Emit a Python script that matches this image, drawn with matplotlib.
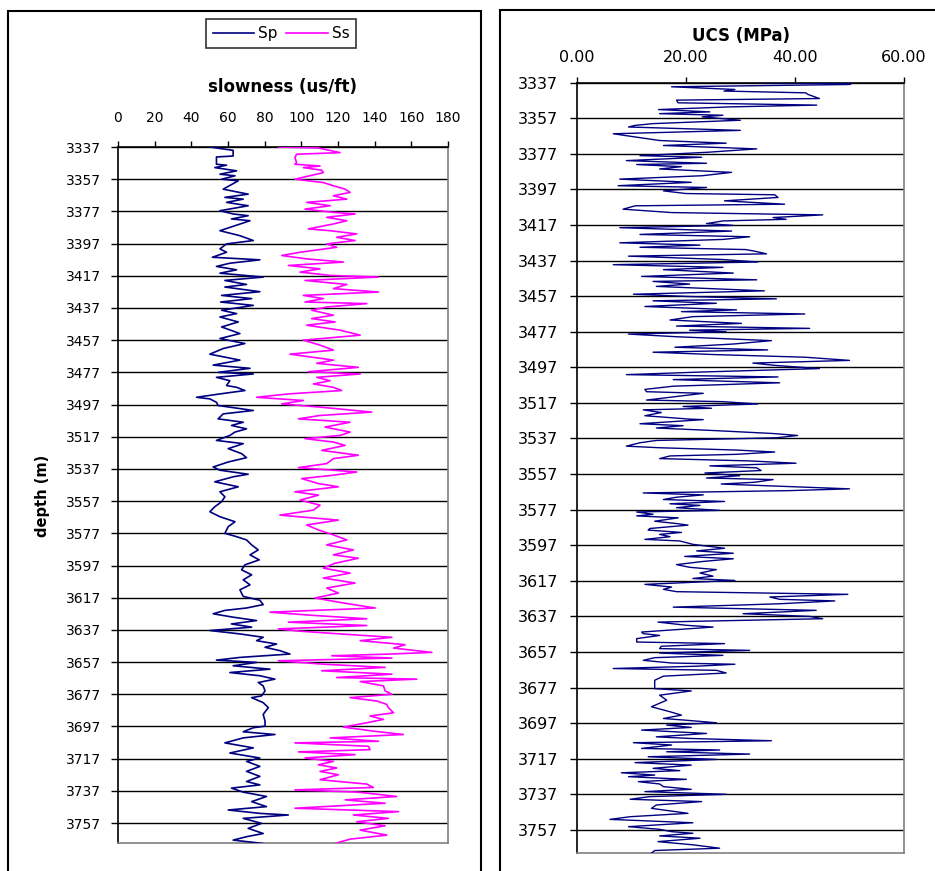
import matplotlib
matplotlib.use('Agg')
import matplotlib.pyplot as plt
from matplotlib.patches import Rectangle
from matplotlib.lines import Line2D

# ---------------- data ----------------
depth_ticks = list(range(3337, 3758, 20))
slow_ticks = [0, 20, 40, 60, 80, 100, 120, 140, 160, 180]
ucs_ticks = [0, 20, 40, 60]
ucs_tick_labels = ["0.00", "20.00", "40.00", "60.00"]

sp_depth = [3337.0, 3339.1, 3342.6, 3343.2, 3347.7, 3348.3, 3349.8, 3351.8, 3353.9, 3354.9,
            3357.0, 3358.0, 3363.2, 3366.3, 3368.3, 3369.4, 3371.4, 3373.5, 3376.6, 3378.6,
            3379.7, 3381.7, 3382.8, 3389.0, 3392.1, 3395.1, 3397.2, 3400.3,
            3402.4, 3405.5, 3407.1, 3409.2, 3411.2, 3413.3, 3415.4, 3417.8, 3419.9, 3422.4,
            3424.0, 3426.9, 3429.2, 3431.2, 3433.3, 3435.4, 3438.4, 3440.5, 3442.6, 3445.7,
            3448.8, 3452.9, 3456.0, 3459.1, 3462.2, 3465.7, 3469.4, 3472.5, 3474.5, 3477.0,
            3478.0, 3480.1, 3482.2, 3485.2, 3486.3, 3488.3, 3490.4, 3492.5, 3493.5, 3495.6,
            3497.6, 3500.7, 3502.8, 3505.9, 3508.0, 3510.0, 3512.1, 3514.1, 3516.2, 3519.3,
            3521.3, 3524.4, 3527.5, 3530.0, 3532.7, 3535.8, 3537.8, 3540.3, 3541.9, 3545.0,
            3548.1, 3551.2, 3554.3, 3557.4, 3560.5, 3563.6, 3566.7, 3569.8, 3572.9, 3577.0,
            3579.1, 3581.1, 3584.2, 3587.3, 3590.4, 3593.5, 3596.6, 3599.7, 3602.8, 3605.9,
            3609.0, 3612.1, 3616.2, 3618.6, 3621.3, 3623.4, 3624.9, 3627.0, 3629.1, 3631.2,
            3633.3, 3635.3, 3637.4, 3639.5, 3641.6, 3643.7, 3645.8, 3647.8, 3649.9, 3652.0,
            3654.1, 3655.8, 3657.2, 3659.3, 3661.4, 3663.5, 3665.5, 3667.6, 3669.7, 3671.8,
            3674.9, 3678.0, 3679.1, 3682.2, 3685.3, 3689.5, 3693.7, 3696.8, 3697.8, 3700.3,
            3702.0, 3704.1, 3707.2, 3710.3, 3713.5, 3716.6, 3718.7, 3721.8, 3724.9, 3728.0,
            3731.2, 3733.3, 3735.3, 3737.8, 3740.5, 3743.7, 3746.8, 3748.9, 3751.0, 3752.0,
            3754.1, 3757.2, 3760.3, 3763.5, 3765.5, 3767.6, 3769.7, 3770.7]
sp_value = [50.1, 62.8, 62.8, 53.7, 53.7, 59.2, 52.8, 64.7, 55.6, 63.8,
            56.5, 65.6, 57.4, 71.0, 58.3, 68.3, 59.2, 71.0, 55.6, 62.8,
            71.0, 61.9, 72.0, 55.6, 66.5, 73.8, 59.2, 55.6,
            59.2, 51.5, 77.4, 61.0, 53.7, 64.7, 55.6, 79.2, 58.3, 70.1,
            58.3, 77.4, 56.5, 72.9, 56.0, 73.8, 56.5, 64.7, 55.6, 65.6,
            56.5, 66.5, 55.6, 69.2, 57.4, 50.1, 66.5, 51.9, 72.0, 54.6,
            73.8, 53.7, 61.0, 59.2, 64.7, 69.2, 55.6, 42.8, 50.1, 53.7,
            54.6, 73.8, 57.4, 54.6, 68.3, 61.9, 70.1, 63.8, 61.0, 53.7,
            68.3, 60.1, 67.4, 70.1, 60.1, 51.9, 55.6, 71.0, 62.8, 52.8,
            65.6, 55.6, 58.3, 56.5, 52.8, 50.1, 55.6, 63.8, 60.1, 58.3,
            64.7, 70.1, 72.9, 76.5, 72.0, 77.0, 69.2, 67.4, 72.9, 68.3,
            72.0, 66.5, 68.3, 77.4, 79.2, 70.1, 58.3, 51.9, 62.8, 75.6,
            61.9, 72.9, 50.1, 66.5, 79.2, 75.6, 86.5, 80.2, 88.3, 93.8,
            66.5, 53.7, 75.6, 62.8, 82.9, 61.0, 77.4, 85.6, 76.5, 79.2,
            80.2, 78.3, 72.9, 79.2, 82.0, 79.2, 80.2, 80.2, 73.8, 68.3,
            85.6, 68.3, 58.3, 73.8, 61.0, 77.4, 70.1, 77.4, 70.1, 77.4,
            70.1, 77.4, 61.9, 68.3, 81.0, 72.9, 81.0, 60.1, 77.4, 92.9,
            68.3, 78.3, 71.0, 79.2, 70.1, 62.8, 79.2, 66.5]

ss_depth = [3337.0, 3337.6, 3340.5, 3341.5, 3343.6, 3346.7, 3347.7, 3348.8, 3349.8, 3351.4,
            3352.9, 3357.0, 3359.1, 3361.1, 3363.2, 3365.2, 3367.3, 3369.4, 3371.4, 3373.5,
            3375.6, 3377.6, 3378.6, 3380.7, 3382.8, 3384.8, 3387.9, 3389.0, 3391.0, 3393.1,
            3395.1, 3397.2, 3399.3, 3402.4, 3404.4, 3406.5, 3408.5, 3410.6, 3412.7, 3414.7,
            3416.8, 3417.8, 3419.9, 3422.4, 3425.0, 3427.1, 3429.2, 3431.2, 3433.3, 3434.3,
            3436.4, 3438.4, 3441.5, 3443.6, 3445.7, 3447.7, 3450.8, 3453.9, 3457.0, 3460.1,
            3463.2, 3465.7, 3469.4, 3471.4, 3473.9, 3476.6, 3478.0, 3480.1, 3482.2, 3484.2,
            3486.3, 3488.3, 3490.4, 3492.5, 3494.5, 3496.6, 3498.6, 3501.7, 3503.8, 3505.9,
            3508.0, 3511.0, 3514.1, 3516.2, 3518.2, 3520.3, 3522.4, 3525.5, 3528.5, 3530.6,
            3533.7, 3536.2, 3538.9, 3540.9, 3543.0, 3546.1, 3548.1, 3551.2, 3553.3, 3556.4,
            3559.5, 3562.6, 3565.7, 3568.8, 3571.8, 3574.9, 3578.0, 3581.1, 3584.2, 3587.3,
            3590.4, 3592.5, 3595.6, 3598.6, 3601.7, 3604.8, 3607.9, 3611.0, 3614.1, 3617.2,
            3620.3, 3623.4, 3626.0, 3628.0, 3630.1, 3632.2, 3634.3, 3636.4, 3637.8, 3639.5,
            3641.6, 3643.7, 3646.2, 3648.3, 3651.0, 3652.0, 3653.1, 3654.5, 3656.2, 3658.3,
            3660.3, 3662.4, 3664.5, 3666.6, 3667.6, 3669.1, 3671.8, 3674.9, 3677.0, 3679.1,
            3681.2, 3683.3, 3685.3, 3688.5, 3690.5, 3692.6, 3694.7, 3697.4, 3699.9, 3702.0,
            3704.1, 3706.2, 3707.2, 3709.3, 3711.4, 3712.8, 3714.5, 3716.6, 3718.7, 3720.8,
            3722.8, 3724.9, 3727.0, 3730.1, 3732.8, 3734.9, 3736.4, 3737.8, 3740.5, 3742.6,
            3744.7, 3747.8, 3749.9, 3752.0, 3754.1, 3756.2, 3758.7, 3761.4, 3764.5, 3767.0,
            3769.1, 3770.7]
ss_value = [87.4, 109.3, 121.1, 97.4, 96.5, 97.4, 96.5, 110.2, 101.1, 111.1,
            112.0, 96.5, 112.0, 117.5, 123.9, 126.6, 117.5, 124.8, 102.9, 115.7,
            102.0, 117.5, 129.3, 113.8, 124.8, 117.5, 103.8, 115.7, 130.2, 119.3,
            129.3, 113.8, 119.3, 99.3, 89.3, 102.9, 123.0, 92.9, 110.2, 99.3,
            115.7, 142.1, 102.0, 124.8, 117.5, 142.1, 101.1, 112.0, 102.0, 135.7,
            113.8, 105.6, 117.5, 105.6, 118.4, 102.9, 121.1, 132.1, 101.1, 110.2,
            117.5, 93.8, 117.5, 108.4, 131.1, 103.8, 132.1, 108.4, 115.7, 106.6,
            117.5, 122.0, 92.9, 75.6, 101.1, 89.3, 110.2, 138.4, 110.2, 98.4,
            126.6, 112.9, 126.6, 121.1, 102.0, 117.5, 123.9, 111.1, 131.1, 117.5,
            113.8, 98.4, 130.2, 117.5, 100.2, 109.3, 120.2, 96.5, 109.3, 99.3,
            110.2, 106.6, 88.3, 120.2, 102.9, 109.3, 117.5, 124.8, 113.8, 128.4,
            117.5, 131.1, 118.4, 112.0, 126.6, 112.0, 129.3, 113.8, 120.2, 107.5,
            123.0, 140.3, 82.9, 106.6, 135.7, 92.9, 135.7, 87.4, 99.3, 121.1,
            149.4, 132.1, 156.6, 150.3, 171.2, 148.5, 116.6, 149.4, 87.4, 112.0,
            145.7, 111.1, 149.4, 119.3, 163.0, 132.1, 144.8, 145.7, 149.4, 126.6,
            141.2, 146.6, 147.5, 150.3, 137.5, 144.8, 135.7, 123.0, 139.3, 155.7,
            115.7, 142.1, 96.5, 136.6, 137.5, 98.4, 129.3, 102.0, 117.5, 109.3,
            119.3, 110.2, 120.2, 110.2, 135.7, 139.3, 96.5, 131.1, 152.1, 123.9,
            145.7, 96.5, 153.0, 128.4, 147.5, 130.2, 145.7, 132.1, 146.6, 126.6,
            120.2, 115.7]

ucs_depth = [3337.0, 3337.5, 3338.0, 3339.3, 3340.8, 3341.7, 3342.7, 3343.6, 3345.9, 3346.8,
             3348.3, 3349.6, 3350.6, 3352.1, 3353.4, 3354.4, 3355.3, 3356.2, 3358.1, 3360.0,
             3361.0, 3361.9, 3363.8, 3365.7, 3367.6, 3369.5, 3371.0, 3372.3, 3374.2, 3376.1,
             3378.0, 3378.9, 3380.8, 3382.3, 3383.0, 3384.2, 3385.5, 3387.4, 3389.3, 3391.2,
             3393.0, 3394.9, 3395.9, 3397.8, 3399.3, 3400.0, 3401.5, 3403.4, 3405.3, 3406.2,
             3408.1, 3410.0, 3411.3, 3412.8, 3413.8, 3414.7, 3416.2, 3417.2, 3418.5, 3420.4,
             3422.3, 3423.6, 3425.1, 3427.0, 3428.3, 3429.5, 3430.8, 3431.7, 3433.2, 3434.5,
             3436.4, 3437.8, 3439.3, 3440.8, 3442.1, 3444.0, 3445.9, 3447.8, 3448.7, 3450.2,
             3451.5, 3454.0, 3455.9, 3457.2, 3458.5, 3459.6, 3461.0, 3462.8, 3464.7, 3465.7,
             3467.0, 3468.5, 3470.4, 3472.3, 3473.8, 3475.1, 3476.1, 3477.0, 3478.3, 3479.8,
             3482.0, 3483.9, 3485.7, 3487.2, 3488.5, 3489.8, 3491.3, 3493.1, 3494.6, 3495.9,
             3497.7, 3499.6, 3501.1, 3502.4, 3503.9, 3504.6, 3505.7, 3507.6, 3509.4, 3510.7,
             3511.6, 3513.5, 3515.4, 3516.3, 3517.6, 3519.0, 3520.0, 3520.9, 3522.4, 3524.2,
             3526.1, 3526.4, 3528.7, 3529.8, 3531.1, 3532.6, 3534.2, 3535.3, 3536.6, 3538.1,
             3539.4, 3541.3, 3542.2, 3543.5, 3544.6, 3545.9, 3546.8, 3548.3, 3549.6, 3550.9,
             3552.4, 3553.5, 3555.0, 3556.4, 3557.9, 3559.2, 3560.1, 3561.6, 3562.6, 3563.9,
             3565.3, 3566.3, 3567.6, 3568.7, 3570.0, 3571.3, 3572.4, 3573.7, 3574.6, 3575.9,
             3577.4, 3578.3, 3579.6, 3580.5, 3581.6, 3583.5, 3584.8, 3585.7, 3587.6, 3588.5,
             3589.8, 3590.9, 3592.2, 3593.7, 3594.6, 3596.5, 3598.7, 3600.2, 3601.5, 3603.3,
             3604.6, 3606.1, 3607.9, 3609.4, 3610.7, 3612.6, 3614.4, 3615.7, 3616.8, 3619.0,
             3620.5, 3621.8, 3623.1, 3624.6, 3626.1, 3627.4, 3628.3, 3629.9, 3631.8, 3633.6,
             3635.5, 3637.0, 3638.3, 3640.2, 3642.0, 3643.0, 3645.8, 3646.7, 3647.7, 3649.5,
             3651.4, 3652.3, 3653.8, 3655.1, 3656.1, 3657.6, 3658.9, 3660.2, 3661.7, 3663.2,
             3663.9, 3665.0, 3666.3, 3667.3, 3668.8, 3670.6, 3672.9, 3677.6, 3678.9, 3681.3,
             3684.1, 3687.8, 3690.6, 3692.5, 3694.4, 3695.3, 3696.8, 3698.1, 3699.4, 3700.9,
             3702.8, 3704.7, 3705.6, 3706.9, 3708.0, 3709.3, 3711.2, 3712.1, 3713.1, 3714.4,
             3715.9, 3717.4, 3719.2, 3720.6, 3722.4, 3723.7, 3724.9, 3726.2, 3727.1, 3728.6,
             3729.9, 3731.2, 3732.7, 3734.2, 3735.5, 3737.0, 3738.3, 3739.8, 3741.1, 3743.0,
             3744.9, 3747.7, 3749.6, 3751.1, 3753.0, 3755.2, 3756.7, 3758.0, 3758.9, 3760.4,
             3761.7, 3763.6, 3765.4, 3767.3, 3768.6, 3770.1]
ucs_value = [33.0, 50.3, 50.0, 17.4, 29.0, 27.0, 42.0, 42.4, 44.5, 18.3,
             18.6, 44.0, 28.0, 15.0, 24.4, 15.2, 26.8, 23.0, 30.0, 14.0,
             10.7, 9.5, 30.0, 6.7, 11.0, 15.2, 27.4, 15.9, 33.0, 24.0,
             11.6, 22.9, 9.1, 23.8, 11.0, 19.2, 15.2, 28.4, 23.0, 7.9,
             21.0, 7.6, 23.8, 15.9, 20.0, 36.3, 36.9, 27.1, 38.1, 10.7,
             8.5, 17.4, 45.1, 36.0, 38.4, 26.8, 23.8, 28.7, 7.9, 28.4,
             11.6, 31.7, 26.8, 7.9, 22.6, 11.6, 31.0, 32.6, 34.8, 9.5,
             26.8, 33.2, 6.7, 26.8, 15.9, 28.7, 11.9, 33.0, 14.0, 20.7,
             14.6, 34.4, 10.4, 20.7, 36.6, 14.0, 25.6, 12.5, 29.3, 19.2,
             41.8, 21.3, 17.1, 30.2, 18.3, 42.7, 20.7, 27.4, 9.5, 18.3,
             35.7, 28.7, 18.0, 35.0, 14.0, 25.0, 41.8, 50.0, 32.3, 36.3,
             44.5, 23.2, 9.1, 36.9, 17.7, 25.0, 37.2, 17.7, 12.5, 12.8,
             23.2, 18.0, 12.8, 26.8, 33.2, 19.5, 24.7, 12.2, 15.5, 12.5,
             20.7, 23.2, 11.6, 19.5, 14.6, 25.6, 36.0, 40.5, 36.6, 14.6,
             11.6, 9.1, 15.2, 29.3, 36.3, 29.3, 17.1, 15.2, 31.7, 40.2,
             24.4, 33.0, 33.8, 23.5, 29.9, 23.8, 36.0, 32.6, 26.5, 37.8,
             50.0, 39.0, 12.2, 23.2, 18.3, 15.9, 27.1, 17.1, 22.6, 18.3,
             26.2, 11.0, 14.0, 11.0, 18.6, 14.3, 18.3, 20.4, 13.4, 13.1,
             19.2, 15.2, 17.1, 12.5, 18.9, 21.3, 27.1, 22.0, 28.7, 19.8,
             28.7, 23.2, 18.3, 20.7, 25.6, 22.6, 25.0, 21.3, 29.0, 12.5,
             17.4, 15.9, 18.3, 49.7, 35.4, 37.2, 47.3, 37.2, 17.7, 43.9,
             30.5, 42.7, 45.1, 14.9, 20.1, 25.0, 11.9, 12.2, 15.2, 11.0,
             11.0, 27.1, 15.5, 15.2, 31.7, 15.2, 26.8, 14.3, 12.2, 17.4,
             29.0, 22.0, 6.7, 25.6, 27.4, 15.9, 14.3, 14.3, 21.0, 15.2,
             16.5, 13.7, 17.1, 19.2, 15.9, 19.8, 25.6, 16.5, 21.0, 11.9,
             23.8, 14.6, 20.7, 35.7, 10.4, 17.4, 11.9, 26.2, 16.5, 31.7,
             13.1, 25.6, 10.7, 21.0, 14.0, 18.9, 8.2, 14.3, 9.5, 20.1,
             11.3, 15.2, 15.9, 21.0, 12.5, 27.4, 13.4, 9.8, 22.9, 14.6,
             13.7, 20.4, 9.8, 6.1, 21.3, 9.5, 15.2, 17.4, 21.3, 15.2,
             22.6, 14.9, 21.3, 26.2, 14.3, 13.7]

# ---------------- figure ----------------
W, H = 935, 871
fig = plt.figure(figsize=(W / 100, H / 100), dpi=100)
fig.patch.set_facecolor('white')

NAVY = '#000080'
MAG = '#FF00FF'
GRAY = '#808080'

ax1 = fig.add_axes([118 / W, 1 - 843 / H, 330 / W, 696 / H])
ax2 = fig.add_axes([576.7 / W, 1 - 853 / H, 327.3 / W, 770.3 / H])

ax1.plot(sp_value, sp_depth, color=NAVY, lw=1.2, zorder=3)
ax1.plot(ss_value, ss_depth, color=MAG, lw=1.2, zorder=3)
ax2.plot(ucs_value, ucs_depth, color=NAVY, lw=1.0, zorder=3)

ax1.set_xlim(0, 180)
ax1.set_ylim(3769.4, 3337)
ax2.set_xlim(0, 60)
ax2.set_ylim(3770, 3337)

ax1.set_xticks(slow_ticks)
ax1.set_xticklabels([str(t) for t in slow_ticks])
ax2.set_xticks(ucs_ticks)
ax2.set_xticklabels(ucs_tick_labels)

for ax, fs, xpad, ypad in [(ax1, 10, 12, 7), (ax2, 11.5, 8.5, 8.5)]:
    ax.set_yticks(depth_ticks)
    ax.set_yticklabels([str(t) for t in depth_ticks])
    ax.xaxis.tick_top()
    ax.grid(axis='y', color='black', lw=1.0, zorder=1)
    ax.grid(axis='x', visible=False)
    ax.tick_params(axis='x', direction='out', length=4, width=1, pad=xpad, labelsize=fs, colors='black')
    ax.tick_params(axis='y', direction='out', length=5, width=1, pad=ypad, labelsize=fs, colors='black')
    ax.spines['left'].set_color('black')
    ax.spines['top'].set_color('black')
    ax.spines['right'].set_color(GRAY)
    ax.spines['bottom'].set_color(GRAY)
    for s in ax.spines.values():
        s.set_linewidth(1.2)

# titles and labels
fig.text(283 / W, 1 - 87 / H, 'slowness (us/ft)', ha='center', va='center',
         fontsize=12, fontweight='bold')
fig.text(741 / W, 1 - 36 / H, 'UCS (MPa)', ha='center', va='center',
         fontsize=12, fontweight='bold')
fig.text(42 / W, 1 - 496 / H, 'depth (m)', ha='center', va='center', rotation=90,
         fontsize=10.5, fontweight='bold')

# legend
handles = [Line2D([], [], color=NAVY, lw=1.2), Line2D([], [], color=MAG, lw=1.2)]
leg = fig.legend(handles, ['Sp', 'Ss'], loc='center', bbox_to_anchor=(281 / W, 1 - 33.5 / H),
                 ncol=2, frameon=True, fancybox=False, edgecolor='black', fontsize=11,
                 handlelength=2.7, handletextpad=0.25, columnspacing=0.6,
                 borderpad=0.45, borderaxespad=0)
leg.get_frame().set_linewidth(1.2)

# panel frames
fig.add_artist(Rectangle((8 / W, -0.05), (481 - 8) / W, 1.05 - 11 / H,
                         transform=fig.transFigure, fill=False, edgecolor='black', lw=1.5))
fig.add_artist(Rectangle((500 / W, -0.05), 0.6, 1.05 - 10 / H,
                         transform=fig.transFigure, fill=False, edgecolor='black', lw=1.5))

fig.savefig('out.png', dpi=100)
